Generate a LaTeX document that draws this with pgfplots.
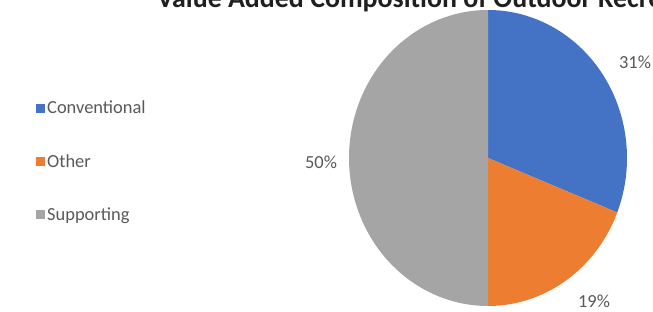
\documentclass[border=0pt]{standalone}
\usepackage{pgfplots}
\usepackage{pgfplotstable}
\pgfplotsset{compat=1.18}
\usepackage{fontspec}
\setmainfont{Carlito}
\definecolor{convblue}{HTML}{4472C4}
\definecolor{othorange}{HTML}{ED7D31}
\definecolor{supgray}{HTML}{A5A5A5}
\definecolor{txtgray}{HTML}{595959}
\pgfplotstableread{
label value
Conventional 31
Other 19
Supporting 50
}\datatable
\pgfplotstablegetelem{0}{value}\of\datatable \edef\vA{\pgfplotsretval}
\pgfplotstablegetelem{1}{value}\of\datatable \edef\vB{\pgfplotsretval}
\pgfplotstablegetelem{2}{value}\of\datatable \edef\vC{\pgfplotsretval}
\begin{document}
\begin{tikzpicture}
\begin{axis}[
  scale only axis, width=653bp, height=312bp,
  xmin=0, xmax=653, ymin=0, ymax=312,
  hide axis, clip=false,
  legend style={at={(axis cs:33,213)}, anchor=north west, draw=none, fill=none,
    font=\fontsize{18.5}{20}\selectfont, text=txtgray, row sep=39bp,
    cells={anchor=west}, nodes={inner xsep=2bp, inner ysep=0bp}},
  legend image code/.code={\fill[#1] (0bp,-4.5bp) rectangle (9bp,4.5bp);},
]
\addplot[fill=convblue, draw=none, domain={90}:{90-3.6*\vA}, samples=80]
  ({488+139*cos(x)},{154+148*sin(x)}) -- (axis cs:488,154) -- cycle;
\addlegendentry{Conventional}
\addplot[fill=othorange, draw=none, domain={90-3.6*\vA}:{90-3.6*(\vA+\vB)}, samples=60]
  ({488+139*cos(x)},{154+148*sin(x)}) -- (axis cs:488,154) -- cycle;
\addlegendentry{Other}
\addplot[fill=supgray, draw=none, domain={90-3.6*(\vA+\vB)}:{90-3.6*(\vA+\vB+\vC)}, samples=120]
  ({488+139*cos(x)},{154+148*sin(x)}) -- (axis cs:488,154) -- cycle;
\addlegendentry{Supporting}
\node[text=txtgray, font=\fontsize{18.5}{20}\selectfont] at (axis cs:635,250) {\vA\%};
\node[text=txtgray, font=\fontsize{18.5}{20}\selectfont] at (axis cs:594,11) {\vB\%};
\node[text=txtgray, font=\fontsize{18.5}{20}\selectfont] at (axis cs:321,150) {\vC\%};
\node[overlay, anchor=base west, inner sep=0pt, text=black!88, font=\fontsize{28}{32}\bfseries\selectfont] at (axis cs:157,304) {Value Added Composition of Outdoor Recreation};
\end{axis}
\pgfresetboundingbox
\path[use as bounding box] (current axis.south west) rectangle (current axis.north east);
\end{tikzpicture}
\end{document}
